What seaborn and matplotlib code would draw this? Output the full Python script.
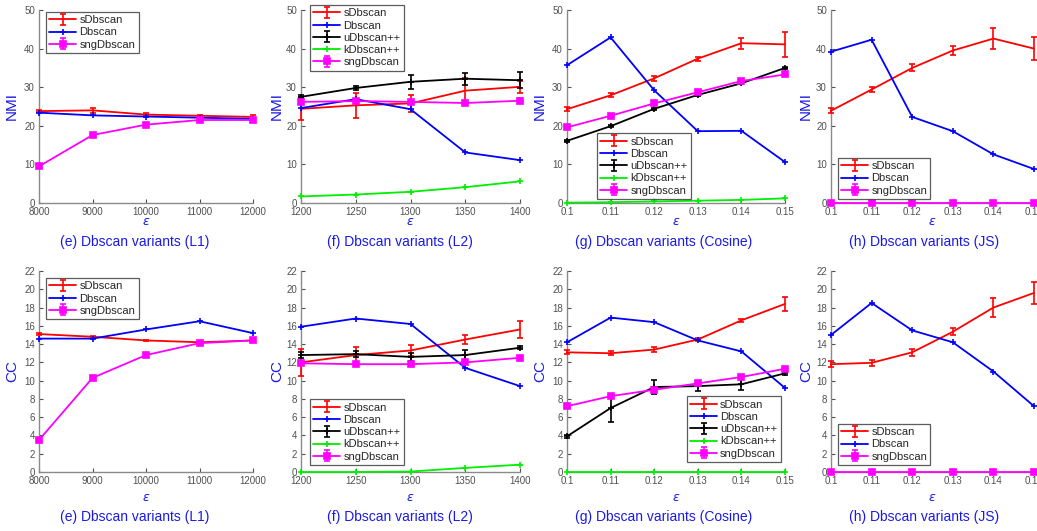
import matplotlib
matplotlib.use("Agg")
import matplotlib.pyplot as plt
import seaborn as sns

# -----------------------------
# DATA
# -----------------------------
eps_l1 = [8000, 9000, 10000, 11000, 12000]
eps_l2 = [1200, 1250, 1300, 1350, 1400]
eps_cos = [0.10, 0.11, 0.12, 0.13, 0.14, 0.15]
eps_js = [0.10, 0.11, 0.12, 0.13, 0.14, 0.15]

eps_l1_labels = ["8000", "9000", "10000", "11000", "12000"]
eps_l2_labels = ["1200", "1250", "1300", "1350", "1400"]
eps_cos_labels = ["0.1", "0.11", "0.12", "0.13", "0.14", "0.15"]
eps_js_labels = ["0.1", "0.11", "0.12", "0.13", "0.14", "0.15"]

# NMI, L1
nmi_l1_sdb = [23.8, 24.0, 22.9, 22.6, 22.3]
nmi_l1_sdb_err = [0.3, 0.7, 0.3, 0.3, 0.5]
nmi_l1_db = [23.4, 22.7, 22.4, 22.1, 21.8]
nmi_l1_sng = [9.5, 17.6, 20.3, 21.5, 21.5]
nmi_l1_sng_err = [0.3, 0.4, 0.3, 0.3, 0.3]

# NMI, L2
nmi_l2_sdb = [24.4, 25.3, 25.8, 29.1, 30.1]
nmi_l2_sdb_err = [3.0, 3.3, 2.3, 3.2, 1.5]
nmi_l2_db = [24.6, 26.9, 24.3, 13.1, 11.1]
nmi_l2_udb = [27.5, 29.8, 31.4, 32.2, 31.8]
nmi_l2_udb_err = [0.4, 0.4, 1.8, 1.6, 2.1]
nmi_l2_kdb = [1.7, 2.2, 2.9, 4.1, 5.6]
nmi_l2_sng = [26.2, 26.4, 26.2, 25.9, 26.5]
nmi_l2_sng_err = [0.5, 0.6, 0.5, 0.4, 0.6]

# NMI, Cosine
nmi_cos_sdb = [24.3, 27.9, 32.3, 37.4, 41.4, 41.1]
nmi_cos_sdb_err = [0.5, 0.5, 0.7, 0.5, 1.4, 3.2]
nmi_cos_db = [35.7, 42.9, 29.2, 18.6, 18.7, 10.6]
nmi_cos_udb = [16.1, 19.9, 24.4, 28.0, 31.0, 35.0]
nmi_cos_udb_err = [0.2, 0.2, 0.2, 0.2, 0.2, 0.3]
nmi_cos_kdb = [0.1, 0.2, 0.4, 0.6, 0.8, 1.2]
nmi_cos_sng = [19.6, 22.6, 25.8, 28.7, 31.6, 33.3]
nmi_cos_sng_err = [0.4, 0.5, 0.5, 0.5, 0.6, 0.4]

# NMI, JS
nmi_js_sdb = [23.9, 29.4, 35.0, 39.5, 42.6, 40.0]
nmi_js_sdb_err = [0.6, 0.6, 0.9, 1.1, 2.8, 3.0]
nmi_js_db = [39.2, 42.3, 22.3, 18.6, 12.6, 8.8]
nmi_js_sng = [0, 0, 0, 0, 0, 0]
nmi_js_sng_err = [0, 0, 0, 0, 0, 0]

# CC, L1
cc_l1_sdb = [15.1, 14.8, 14.4, 14.2, 14.4]
cc_l1_sdb_err = [0.1, 0.1, 0.1, 0.1, 0.1]
cc_l1_db = [14.6, 14.6, 15.6, 16.5, 15.2]
cc_l1_sng = [3.5, 10.3, 12.8, 14.1, 14.4]
cc_l1_sng_err = [0.1, 0.1, 0.1, 0.1, 0.1]

# CC, L2
cc_l2_sdb = [12.0, 12.8, 13.3, 14.5, 15.6]
cc_l2_sdb_err = [1.5, 0.9, 0.6, 0.5, 0.9]
cc_l2_db = [15.9, 16.8, 16.2, 11.4, 9.4]
cc_l2_udb = [12.8, 12.9, 12.6, 12.8, 13.6]
cc_l2_udb_err = [0.3, 0.3, 0.4, 0.6, 0.15]
cc_l2_kdb = [0.0, 0.0, 0.05, 0.45, 0.8]
cc_l2_sng = [11.9, 11.8, 11.8, 12.0, 12.5]
cc_l2_sng_err = [0.2, 0.2, 0.2, 0.2, 0.2]

# CC, Cosine
cc_cos_sdb = [13.1, 13.0, 13.4, 14.5, 16.6, 18.4]
cc_cos_sdb_err = [0.2, 0.2, 0.3, 0.2, 0.2, 0.8]
cc_cos_db = [14.2, 16.9, 16.4, 14.4, 13.2, 9.2]
cc_cos_udb = [3.9, 7.0, 9.3, 9.4, 9.6, 10.8]
cc_cos_udb_err = [0.2, 1.5, 0.8, 0.5, 0.6, 0.2]
cc_cos_kdb = [0, 0, 0, 0, 0, 0]
cc_cos_sng = [7.2, 8.3, 9.0, 9.7, 10.4, 11.3]
cc_cos_sng_err = [0.2, 0.2, 0.2, 0.2, 0.2, 0.2]

# CC, JS
cc_js_sdb = [11.8, 11.95, 13.1, 15.35, 18.0, 19.6]
cc_js_sdb_err = [0.3, 0.3, 0.4, 0.4, 1.0, 1.2]
cc_js_db = [15.0, 18.5, 15.5, 14.2, 11.0, 7.2]
cc_js_sng = [0, 0, 0, 0, 0, 0]
cc_js_sng_err = [0, 0, 0, 0, 0, 0]

captions = ["(e) Dbscan variants (L1)", "(f) Dbscan variants (L2)",
            "(g) Dbscan variants (Cosine)", "(h) Dbscan variants (JS)"]

# -----------------------------
# STYLE
# -----------------------------
sns.set_style("ticks")
plt.rcParams["font.family"] = ["Liberation Sans", "DejaVu Sans"]

W, H = 1037, 531
LABEL_BLUE = "#1a1ae6"
TICK_GREY = "#505050"
SPINE_GREY = "#8a8a8a"

styles = {
    "sDbscan": dict(color="#ff0000", marker="", ms=0),
    "Dbscan": dict(color="#0000ff", marker="+", ms=5),
    "uDbscan++": dict(color="#000000", marker="+", ms=5),
    "kDbscan++": dict(color="#00ee00", marker="+", ms=5),
    "sngDbscan": dict(color="#ff00ff", marker="s", ms=4),
}

fig = plt.figure(figsize=(W / 100, H / 100), dpi=100)

lefts = [39, 301, 567, 831]
widths = [214, 219, 218, 203]
rows = [(10, 203), (271, 472)]


def add_axes(col, row):
    top, bottom = rows[row]
    return fig.add_axes([lefts[col] / W, 1 - bottom / H,
                         widths[col] / W, (bottom - top) / H])


def draw_panel(ax, eps, labels, series, ylim, ystep, leg_loc, leg_anchor):
    handles, names = [], []
    for name, vals, err in series:
        st = styles[name]
        sns.lineplot(x=eps, y=vals, ax=ax, color=st["color"], lw=1.3,
                     marker=st["marker"] if st["marker"] else None,
                     markersize=st["ms"], markeredgewidth=1.2,
                     markeredgecolor=st["color"], markerfacecolor=st["color"],
                     clip_on=False, zorder=3)
        line = ax.lines[-1]
        if err is not None:
            eb = ax.errorbar(eps, vals, yerr=err, fmt="none", ecolor=st["color"],
                             elinewidth=1.2, capsize=2.5, capthick=1.2,
                             clip_on=False, zorder=3)
            handles.append((line, eb))
        else:
            handles.append(line)
        names.append(name)

    ax.set_xlim(eps[0], eps[-1])
    ax.set_ylim(0, ylim)
    ax.set_xticks(eps)
    ax.set_xticklabels(labels)
    ax.set_yticks(range(0, ylim + 1, ystep))
    ax.tick_params(direction="in", length=3, width=0.8, colors=TICK_GREY,
                   labelsize=7, pad=3)
    sns.despine(ax=ax)
    for side in ["left", "bottom"]:
        ax.spines[side].set_color(SPINE_GREY)
        ax.spines[side].set_linewidth(1.0)

    leg = ax.legend(handles, names, loc=leg_loc, bbox_to_anchor=leg_anchor,
                    fontsize=8, frameon=True, fancybox=False, borderpad=0.3,
                    labelspacing=0.2, handlelength=2.4, handletextpad=0.3,
                    borderaxespad=0, numpoints=1)
    leg.get_frame().set_edgecolor("#333333")
    leg.get_frame().set_linewidth(0.9)


# -----------------------------
# TOP ROW: NMI
# -----------------------------
top_specs = [
    (eps_l1, eps_l1_labels,
     [("sDbscan", nmi_l1_sdb, nmi_l1_sdb_err), ("Dbscan", nmi_l1_db, None),
      ("sngDbscan", nmi_l1_sng, nmi_l1_sng_err)],
     "upper left", (0.033, 0.99)),
    (eps_l2, eps_l2_labels,
     [("sDbscan", nmi_l2_sdb, nmi_l2_sdb_err), ("Dbscan", nmi_l2_db, None),
      ("uDbscan++", nmi_l2_udb, nmi_l2_udb_err), ("kDbscan++", nmi_l2_kdb, None),
      ("sngDbscan", nmi_l2_sng, nmi_l2_sng_err)],
     "upper left", (0.041, 1.026)),
    (eps_cos, eps_cos_labels,
     [("sDbscan", nmi_cos_sdb, nmi_cos_sdb_err), ("Dbscan", nmi_cos_db, None),
      ("uDbscan++", nmi_cos_udb, nmi_cos_udb_err), ("kDbscan++", nmi_cos_kdb, None),
      ("sngDbscan", nmi_cos_sng, nmi_cos_sng_err)],
     "lower left", (0.138, 0.021)),
    (eps_js, eps_js_labels,
     [("sDbscan", nmi_js_sdb, nmi_js_sdb_err), ("Dbscan", nmi_js_db, None),
      ("sngDbscan", nmi_js_sng, nmi_js_sng_err)],
     "lower left", (0.034, 0.021)),
]

# -----------------------------
# BOTTOM ROW: CC
# -----------------------------
bottom_specs = [
    (eps_l1, eps_l1_labels,
     [("sDbscan", cc_l1_sdb, cc_l1_sdb_err), ("Dbscan", cc_l1_db, None),
      ("sngDbscan", cc_l1_sng, cc_l1_sng_err)],
     "upper left", (0.033, 0.965)),
    (eps_l2, eps_l2_labels,
     [("sDbscan", cc_l2_sdb, cc_l2_sdb_err), ("Dbscan", cc_l2_db, None),
      ("uDbscan++", cc_l2_udb, cc_l2_udb_err), ("kDbscan++", cc_l2_kdb, None),
      ("sngDbscan", cc_l2_sng, cc_l2_sng_err)],
     "lower left", (0.041, 0.035)),
    (eps_cos, eps_cos_labels,
     [("sDbscan", cc_cos_sdb, cc_cos_sdb_err), ("Dbscan", cc_cos_db, None),
      ("uDbscan++", cc_cos_udb, cc_cos_udb_err), ("kDbscan++", cc_cos_kdb, None),
      ("sngDbscan", cc_cos_sng, cc_cos_sng_err)],
     "lower left", (0.55, 0.05)),
    (eps_js, eps_js_labels,
     [("sDbscan", cc_js_sdb, cc_js_sdb_err), ("Dbscan", cc_js_db, None),
      ("sngDbscan", cc_js_sng, cc_js_sng_err)],
     "lower left", (0.034, 0.035)),
]

ylabel_x = [12, 277, 540, 806]
caption_x = [134.5, 400, 664, 924]

for row, (specs, ylim, ystep, ylabel, eps_y, cap_y) in enumerate([
        (top_specs, 50, 10, "NMI", 222, 242),
        (bottom_specs, 22, 2, "CC", 498, 517)]):
    top, bottom = rows[row]
    for col, (eps, labels, series, loc, anchor) in enumerate(specs):
        ax = add_axes(col, row)
        draw_panel(ax, eps, labels, series, ylim, ystep, loc, anchor)
        fig.text(ylabel_x[col] / W, 1 - (top + bottom) / 2 / H, ylabel,
                 rotation=90, ha="center", va="center", fontsize=11,
                 color=LABEL_BLUE)
        fig.text((lefts[col] + widths[col] / 2) / W, 1 - eps_y / H,
                 r"$\epsilon$", ha="center", va="center", fontsize=9,
                 color=LABEL_BLUE)
        fig.text(caption_x[col] / W, 1 - cap_y / H, captions[col],
                 ha="center", va="center", fontsize=10, color=LABEL_BLUE)

fig.savefig("out.png", dpi=100)
